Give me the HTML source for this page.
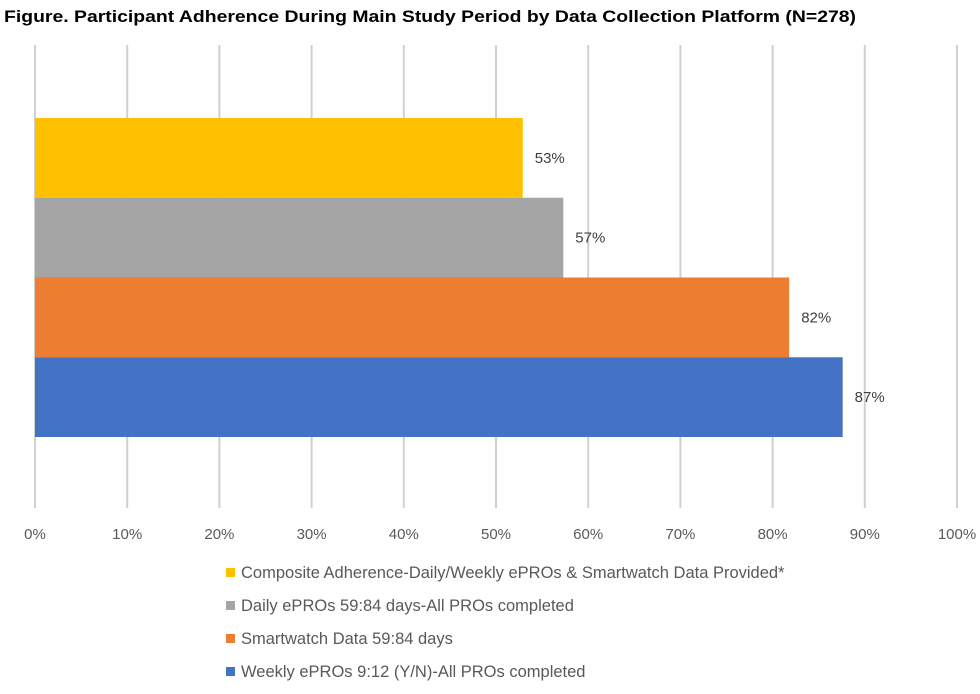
<!DOCTYPE html>
<html><head><meta charset="utf-8"><style>
body{margin:0;background:#fff;}
svg{display:block;font-family:"Liberation Sans",sans-serif;}
</style></head><body>
<svg id="chart" width="980" height="694">
<text x="4" y="22" font-size="17" font-weight="bold" fill="#000" textLength="852" lengthAdjust="spacingAndGlyphs">Figure. Participant Adherence During Main Study Period by Data Collection Platform (N=278)</text>
<g id="grid"></g><g id="bars"></g><g id="ticks"></g><g id="legend"></g>
</svg>
<script>
const categories = ["Composite Adherence-Daily/Weekly ePROs & Smartwatch Data Provided*","Daily ePROs 59:84 days-All PROs completed","Smartwatch Data 59:84 days","Weekly ePROs 9:12 (Y/N)-All PROs completed"];
const values = [52.9, 57.3, 81.8, 87.6];
const valueLabels = ["53%","57%","82%","87%"];
const colors = ["#FFC000","#A5A5A5","#ED7D31","#4472C4"];
const tickValues = [0,10,20,30,40,50,60,70,80,90,100];
const tickLabels = ["0%","10%","20%","30%","40%","50%","60%","70%","80%","90%","100%"];
const NS="http://www.w3.org/2000/svg";
const x0=35, pxPer=9.22, barTop=118, barH=79.75;
const xScale=v=>x0+v*pxPer;
function mk(tag,attrs,parent){const e=document.createElementNS(NS,tag);for(const k in attrs)e.setAttribute(k,attrs[k]);document.getElementById(parent).appendChild(e);return e;}
tickValues.forEach((t,i)=>{
  const l=mk("line",{x1:xScale(t),x2:xScale(t),y1:45,y2:508,stroke:"#d0d0d0","stroke-width":2},"grid");
  
  
  const tx=mk("text",{x:xScale(t),y:539,"text-anchor":"middle","font-size":15,fill:"#595959"},"ticks");
  tx.textContent=tickLabels[i];
  
  
});
values.forEach((v,i)=>{
  const y=barTop+i*barH;
  const r=mk("rect",{x:x0,y:y,width:xScale(v)-x0,height:barH,fill:colors[i]},"bars");
  
  
  const t=mk("text",{x:xScale(v)+12,y:y+barH/2+5,"font-size":15,fill:"#404040"},"bars");
  t.textContent=valueLabels[i];
  
  
  const ly=573+i*33;
  const s=mk("rect",{x:226,y:ly-5,width:9,height:9,fill:colors[i]},"legend");
  
  
  const lt=mk("text",{x:241,y:ly+5,"font-size":16.5,fill:"#595959"},"legend");
  lt.textContent=categories[i];
  
  
});
</script>
</body></html>
